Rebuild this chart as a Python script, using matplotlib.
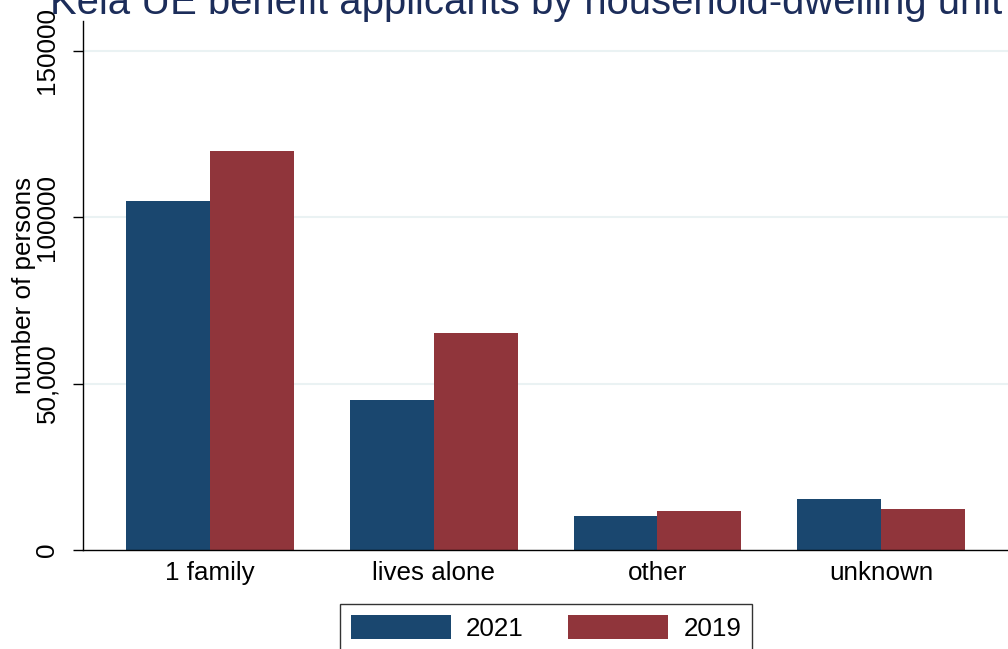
import matplotlib
matplotlib.use("Agg")
from matplotlib import pyplot
from matplotlib.ticker import FixedLocator, FixedFormatter
import numpy as np

pyplot.rcParams['font.family'] = ['Liberation Sans', 'DejaVu Sans']

# data
categories = ['1 family', 'lives alone', 'other', 'unknown']
series_2021 = [105000, 45100, 10200, 15400]
series_2019 = [120000, 65100, 11700, 12300]
series_names = ['2021', '2019']
ytick_values = [0, 50000, 100000, 150000]
ytick_labels = ['0', '50,000', '100000', '150000']

col_2021 = '#1a476f'
col_2019 = '#90353b'
title_col = '#1c2d5a'
grid_col = '#eaf2f3'
fs = 18.7

W, H = 1008., 649.
dpi = 100.
fig = pyplot.figure(figsize=(W/dpi, H/dpi), dpi=dpi)
ax = fig.add_axes([83/W, (H-550)/H, 1 - 83/W, (550-21)/H])

x = np.arange(len(categories))
bw = 0.375
b1 = ax.bar(x - bw/2, series_2021, bw, color=col_2021, label=series_names[0], zorder=2)
b2 = ax.bar(x + bw/2, series_2019, bw, color=col_2019, label=series_names[1], zorder=2)

ax.set_xlim(-0.568, 3.567)
ax.set_ylim(0, 159000)

ax.yaxis.set_major_locator(FixedLocator(ytick_values))
ax.yaxis.set_major_formatter(FixedFormatter(ytick_labels))
for lab in ax.get_yticklabels():
    lab.set_rotation(90)
    lab.set_va('center')
ax.tick_params(axis='y', length=7.2, width=1, pad=10, labelsize=fs, direction='out')
ax.set_xticks(x)
ax.set_xticklabels(categories)
ax.tick_params(axis='x', length=0, pad=8, labelsize=fs)

for v in ytick_values[1:]:
    ax.axhline(v, color=grid_col, lw=1.5, zorder=1)

for side in ['top', 'right']:
    ax.spines[side].set_visible(False)
ax.spines['left'].set_linewidth(1)
ax.spines['bottom'].set_linewidth(1)

fig.text(24/W, 1 - 285/H, 'number of persons', rotation=90, ha='center', va='center', fontsize=fs)

# title is clipped at the top edge in the reference too
fig.text(526/W, 1 - 14/H, 'Kela UE benefit applicants by household-dwelling unit',
         ha='center', va='baseline', fontsize=28.8, color=title_col)

leg = fig.legend(handles=[b1, b2], labels=series_names, loc='upper center',
                 bbox_to_anchor=(546/W, 1 - 604/H), ncol=2, fontsize=fs,
                 frameon=True, fancybox=False, edgecolor='black',
                 handlelength=3.85, handleheight=1.04, handletextpad=0.6,
                 columnspacing=1.7, borderpad=0.42, borderaxespad=0)
leg.get_frame().set_linewidth(1)

fig.savefig('out.png', dpi=dpi)
